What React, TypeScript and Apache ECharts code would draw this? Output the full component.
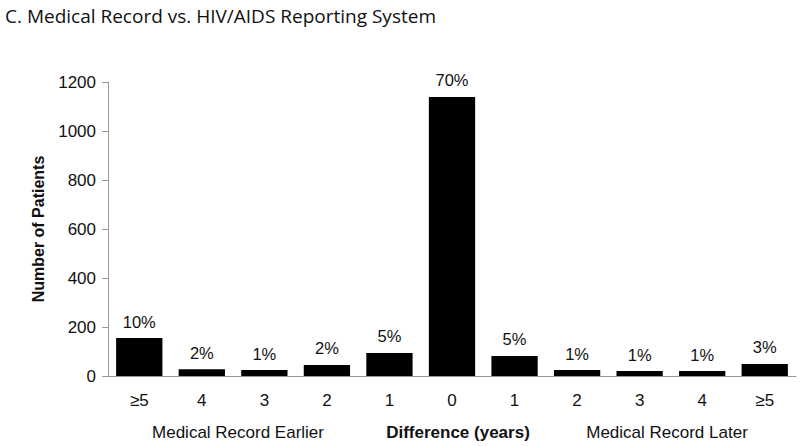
import React, { useEffect, useRef } from "react";
import * as echarts from "echarts";

const categories = ["≥5", "4", "3", "2", "1", "0", "1", "2", "3", "4", "≥5"];
const patients = [155, 28, 24, 45, 94, 1139, 82, 24, 20, 20, 49];
const percents = ["10%", "2%", "1%", "2%", "5%", "70%", "5%", "1%", "1%", "1%", "3%"];
const yTicks = { min: 0, max: 1200, interval: 200 };
const groupLabels = ["Medical Record Earlier", "Difference (years)", "Medical Record Later"];

export default function App() {
  const ref = useRef<HTMLDivElement>(null);
  useEffect(() => {
    if (!ref.current) return;
    const chart = echarts.init(ref.current, null, { renderer: "svg" });
    const font = "'Liberation Sans', Arial, sans-serif";
    chart.setOption({
      animation: false,
      backgroundColor: "#ffffff",
      title: {
        text: "C. Medical Record vs. HIV/AIDS Reporting System",
        left: 0,
        top: 1,
        textStyle: { fontFamily: "'Open Sans', sans-serif", fontSize: 19, fontWeight: "normal", color: "#111" },
      },
      grid: { left: 108, right: 4, top: 82, bottom: 70 },
      xAxis: {
        type: "category",
        data: categories,
        axisLine: { lineStyle: { color: "#999" } },
        axisTick: { lineStyle: { color: "#999" }, length: 6 },
        axisLabel: { color: "#111", fontSize: 17, fontFamily: font, margin: 16 },
      },
      yAxis: {
        type: "value",
        min: yTicks.min,
        max: yTicks.max,
        interval: yTicks.interval,
        name: "Number of Patients",
        nameLocation: "middle",
        nameGap: 62,
        nameTextStyle: { fontFamily: font, fontSize: 16, fontWeight: "bold", color: "#111" },
        splitLine: { show: false },
        axisLine: { show: true, lineStyle: { color: "#999" } },
        axisTick: { show: true, lineStyle: { color: "#999" }, length: 6 },
        axisLabel: { color: "#111", fontSize: 17, fontFamily: font, margin: 12, formatter: (v: number) => String(v) },
      },
      series: [
        {
          type: "bar",
          data: patients,
          barCategoryGap: "26%",
          itemStyle: { color: "#000" },
          label: {
            show: true,
            position: "top",
            distance: 8,
            formatter: (p: any) => percents[p.dataIndex],
            fontSize: 16.5,
            fontFamily: font,
            color: "#111",
          },
        },
      ],
      graphic: [
        { type: "text", x: 238, y: 432, style: { text: groupLabels[0], font: `17px ${font}`, fill: "#111", textAlign: "center", textVerticalAlign: "middle" } },
        { type: "text", x: 458, y: 432, style: { text: groupLabels[1], font: `bold 17px ${font}`, fill: "#111", textAlign: "center", textVerticalAlign: "middle" } },
        { type: "text", x: 667, y: 432, style: { text: groupLabels[2], font: `17px ${font}`, fill: "#111", textAlign: "center", textVerticalAlign: "middle" } },
      ],
    });
    return () => chart.dispose();
  }, []);
  return <div ref={ref} style={{ width: 800, height: 446, position: "absolute", left: 0, top: 0 }} />;
}
